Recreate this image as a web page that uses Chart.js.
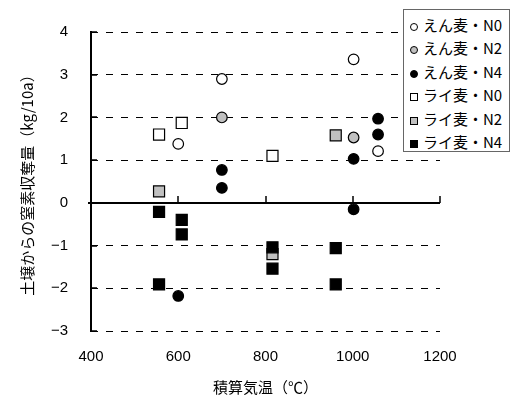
<!DOCTYPE html>
<html>
<head>
<meta charset="utf-8">
<script src="https://cdn.jsdelivr.net/npm/chart.js@4/dist/chart.umd.min.js"></script>
<style>
  html, body { margin: 0; padding: 0; background: #fff; }
  #wrap { position: relative; width: 515px; height: 399px; }
  #legend {
    position: absolute; left: 403px; top: 9px; width: 107px; height: 143px;
    box-sizing: border-box; border: 1px solid #666; background: #fff;
    padding-top: 3px;
    font: 15px "Noto Sans CJK JP", sans-serif; color: #000;
  }
  #legend div { height: 23.4px; line-height: 23.4px; white-space: nowrap; }
  #legend i { display: inline-block; width: 8px; height: 8px; box-sizing: border-box;
    border: 1px solid #000; margin: 0 5px 0 6px; vertical-align: 0px; }
  #legend i.c { border-radius: 50%; }
</style>
</head>
<body>
<div id="wrap">
  <canvas id="chart" width="515" height="399"></canvas>
  <div id="legend"></div>
</div>
<script>
const xTicks = [400, 600, 800, 1000, 1200];
const yTicks = [-3, -2, -1, 0, 1, 2, 3, 4];

const seriesNames = ["えん麦・N0", "えん麦・N2", "えん麦・N4", "ライ麦・N0", "ライ麦・N2", "ライ麦・N4"];

// 積算気温 / 窒素収奪量
const enN0X = [600, 700, 1002, 1058];
const enN0Y = [1.38, 2.9, 3.36, 1.21];
const enN2X = [700, 1002];
const enN2Y = [2.0, 1.53];
const enN4X = [700, 700, 1002, 1002, 1058, 1058, 600];
const enN4Y = [0.77, 0.35, 1.03, -0.15, 1.97, 1.6, -2.18];
const raiN0X = [556, 608, 816];
const raiN0Y = [1.6, 1.87, 1.1];
const raiN2X = [556, 961, 816];
const raiN2Y = [0.27, 1.58, -1.2];
const raiN4X = [556, 608, 608, 816, 816, 961, 556, 961];
const raiN4Y = [-0.21, -0.4, -0.74, -1.04, -1.54, -1.06, -1.91, -1.91];

const xs = [enN0X, enN2X, enN4X, raiN0X, raiN2X, raiN4X];
const ys = [enN0Y, enN2Y, enN4Y, raiN0Y, raiN2Y, raiN4Y];
const fills = ["#fff", "#c0c0c0", "#000", "#fff", "#c0c0c0", "#000"];
const shapes = ["circle", "circle", "circle", "rect", "rect", "rect"];

const datasets = seriesNames.map((name, i) => ({
  label: name,
  data: xs[i].map((x, j) => ({ x: x, y: ys[i][j] })),
  pointStyle: shapes[i],
  pointRadius: shapes[i] === "circle" ? 5.3 : 7.8,
  pointBackgroundColor: fills[i],
  pointBorderColor: "#000",
  pointBorderWidth: 1.2,
  showLine: false,
  order: 6 - i
}));

// legend as html
const legend = document.getElementById("legend");
legend.innerHTML = seriesNames.map((name, i) =>
  `<div><i class="${shapes[i] === "circle" ? "c" : ""}" style="background:${fills[i]}"></i>${name}</div>`
).join("");

const axisLines = {
  id: "axisLines",
  beforeDatasetsDraw(chart) {
    const { ctx, chartArea: a, scales: { x, y } } = chart;
    const y0 = Math.round(y.getPixelForValue(0));
    ctx.save();
    ctx.strokeStyle = "#000";
    ctx.lineWidth = 2;
    ctx.beginPath();
    ctx.moveTo(a.left - 3, y0);
    ctx.lineTo(a.right, y0);
    ctx.moveTo(a.left, a.top - 1);
    ctx.lineTo(a.left, a.bottom + 1);
    ctx.stroke();
    ctx.lineWidth = 1.5;
    ctx.beginPath();
    yTicks.forEach(v => {
      const p = Math.round(y.getPixelForValue(v));
      ctx.moveTo(a.left, p);
      ctx.lineTo(a.left + 6, p);
    });
    xTicks.slice(1).forEach(v => {
      const p = Math.round(x.getPixelForValue(v));
      ctx.moveTo(p, y0);
      ctx.lineTo(p, y0 - 7);
    });
    ctx.stroke();
    ctx.restore();
  }
};

const numFont = { family: "'Liberation Sans', Arial, sans-serif", size: 15 };
const jpFont = { family: "'Noto Sans CJK JP', sans-serif", size: 15 };

new Chart(document.getElementById("chart"), {
  type: "scatter",
  data: { datasets: datasets },
  options: {
    responsive: false,
    animation: false,
    layout: { padding: { top: 29, right: 75, bottom: 0, left: 0 } },
    plugins: { legend: { display: false }, tooltip: { enabled: false } },
    scales: {
      x: {
        min: 400, max: 1200,
        afterBuildTicks: s => { s.ticks = xTicks.map(v => ({ value: v })); },
        afterFit: s => { s.height = 68; },
        grid: { display: false, drawTicks: false },
        border: { display: false },
        ticks: { color: "#000", font: numFont, padding: 17, maxRotation: 0, callback: v => String(v) },
        title: { display: true, text: "積算気温（℃）", color: "#000", font: jpFont, padding: { top: 0, bottom: 3 } }
      },
      y: {
        min: -3, max: 4,
        afterBuildTicks: s => { s.ticks = yTicks.map(v => ({ value: v })); },
        afterFit: s => { s.width = 91; },
        grid: {
          drawTicks: false,
          color: c => (c.tick && c.tick.value === 0) ? "rgba(0,0,0,0)" : "#000",
          lineWidth: 1
        },
        border: { display: false, dash: [7, 8] },
        ticks: {
          color: "#000", font: numFont, padding: 23,
          callback: v => String(v).replace("-", "−")
        },
        title: { display: true, text: "土壌からの窒素収奪量（kg/10a）", color: "#000", font: jpFont, padding: { top: 18, bottom: 0 } }
      }
    }
  },
  plugins: [axisLines]
});
</script>
</body>
</html>
